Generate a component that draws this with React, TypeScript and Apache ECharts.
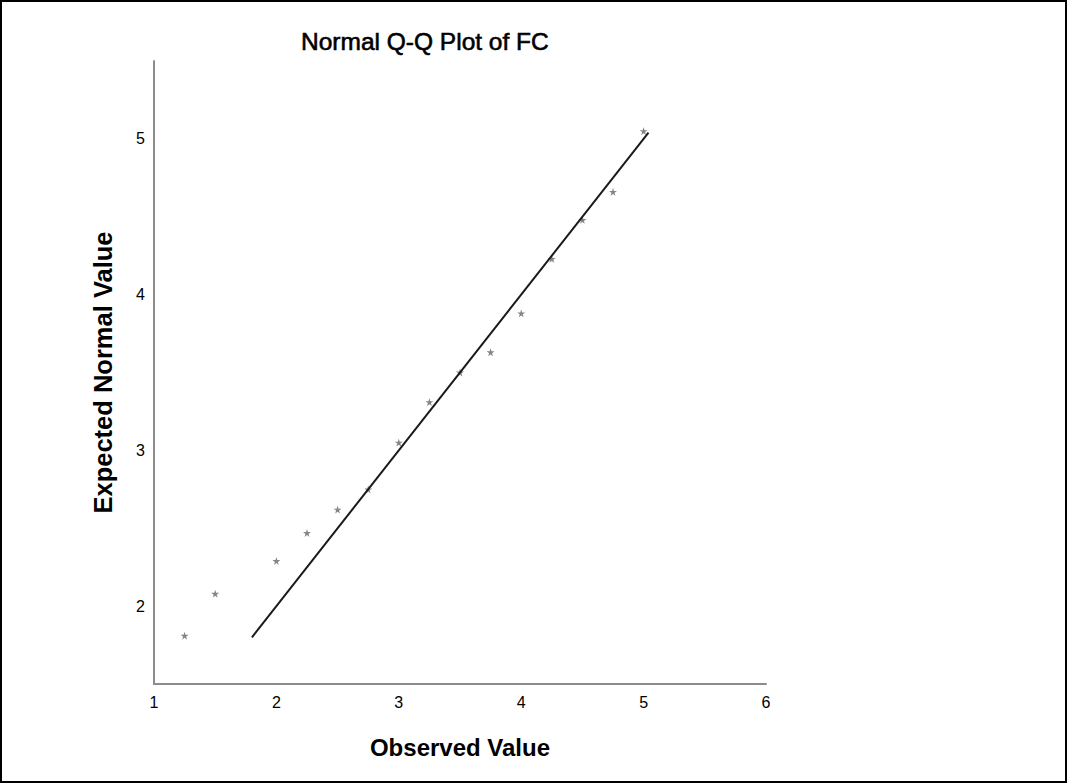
import React, { useEffect, useRef } from "react";
import * as echarts from "echarts";

const observed = [1.25, 1.5, 2, 2.25, 2.5, 2.75, 3, 3.25, 3.5, 3.75, 4, 4.25, 4.5, 4.75, 5];
const expected = [1.81, 2.08, 2.29, 2.47, 2.62, 2.75, 3.05, 3.31, 3.5, 3.63, 3.88, 4.23, 4.48, 4.66, 5.05];
const refLine = [1.8, 5.04];

const STAR =
  "path://M50,0 L61,35 L98,35 L68,57 L79,91 L50,70 L21,91 L32,57 L2,35 L39,35 Z";

const FONT = "Liberation Sans, Arial, sans-serif";

export default function App() {
  const ref = useRef<HTMLDivElement>(null);
  useEffect(() => {
    const chart = echarts.init(ref.current!, null, { renderer: "svg" });
    chart.setOption({
      animation: false,
      backgroundColor: "#fff",
      textStyle: { fontFamily: FONT },
      title: {
        text: "Normal Q-Q Plot of FC",
        left: 296,
        top: 24,
        textStyle: {
          fontSize: 24.5,
          fontWeight: "normal",
          color: "#000",
          fontFamily: FONT,
          textBorderColor: "#000",
          textBorderWidth: 0.6,
        },
      },
      grid: { left: 154, right: 301, top: 61, bottom: 99, containLabel: false },
      xAxis: {
        type: "value",
        min: 1,
        max: 6,
        interval: 1,
        name: "Observed Value",
        nameLocation: "middle",
        nameGap: 51,
        nameTextStyle: { fontSize: 24, fontWeight: "bold", color: "#000", fontFamily: FONT },
        axisLine: { show: true, lineStyle: { color: "#8c8c8c", width: 2 } },
        axisTick: { show: false },
        splitLine: { show: false },
        axisLabel: { color: "#000", fontSize: 16, margin: 10, fontFamily: FONT },
      },
      yAxis: {
        type: "value",
        min: 1.5,
        max: 5.5,
        interval: 0.5,
        name: "Expected Normal Value",
        nameLocation: "middle",
        nameGap: 38,
        nameRotate: 90,
        nameTextStyle: { fontSize: 25.5, fontWeight: "bold", color: "#000", fontFamily: FONT },
        axisLine: { show: true, lineStyle: { color: "#8c8c8c", width: 2 } },
        axisTick: { show: false },
        splitLine: { show: false },
        axisLabel: {
          color: "#000",
          fontSize: 16,
          margin: 9,
          fontFamily: FONT,
          formatter: (v: number) => (Number.isInteger(v) && v >= 2 && v <= 5 ? String(v) : ""),
        },
      },
      series: [
        {
          type: "line",
          data: refLine.map((v) => [v, v]),
          symbol: "none",
          lineStyle: { color: "#1a1a1a", width: 2 },
          silent: true,
        },
        {
          type: "scatter",
          data: observed.map((x, i) => [x, expected[i]]),
          symbol: STAR,
          symbolSize: 8,
          itemStyle: { color: "#666666" },
        },
      ],
    });
    return () => chart.dispose();
  }, []);
  return (
    <div
      style={{
        position: "fixed",
        left: 0,
        top: 0,
        width: 1067,
        height: 783,
        background: "#fff",
      }}
    >
      <div ref={ref} style={{ position: "absolute", left: 0, top: 0, width: 1067, height: 783 }} />
      <div
        style={{
          position: "absolute",
          left: 0,
          top: 0,
          width: 1067,
          height: 783,
          border: "2px solid #000",
          boxSizing: "border-box",
          pointerEvents: "none",
        }}
      />
    </div>
  );
}
